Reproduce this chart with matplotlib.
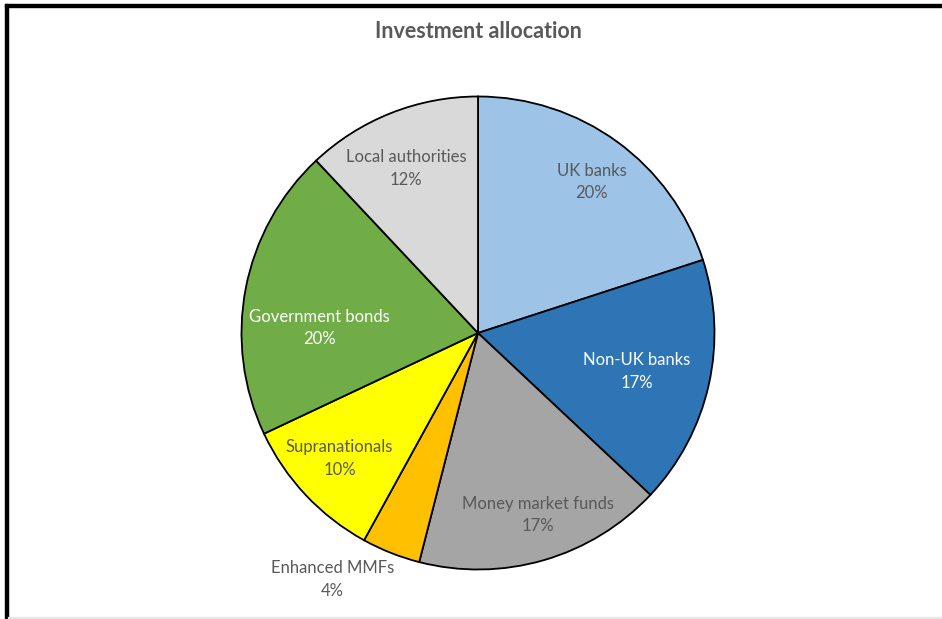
import matplotlib.pyplot as plt
from matplotlib.patches import Rectangle
import numpy as np

plt.rcParams['font.family'] = ['Lato', 'DejaVu Sans']

labels = ['UK banks', 'Non-UK banks', 'Money market funds', 'Enhanced MMFs',
          'Supranationals', 'Government bonds', 'Local authorities']
shares = [20, 17, 17, 4, 10, 20, 12]
colors = ['#9DC3E6', '#2E75B6', '#A5A5A5', '#FFC000', '#FFFF00', '#70AD47', '#D9D9D9']
text_colors = ['#595959', 'white', '#595959', '#595959', '#595959', 'white', '#595959']
# radial position of each label (fraction of radius) and angular nudge in degrees
label_r = [0.80, 0.69, 0.81, 1.21, 0.79, 0.67, 0.76]
label_nudge = [-1, -1, 2, -9, -1, 9, 2]

W, H = 942, 619
fig = plt.figure(figsize=(W / 100, H / 100), dpi=100)

# pie axes: centre (478, 333) px, radius 236.5 px
cx, cy, r = 478, 333, 236.5
ax = fig.add_axes([(cx - r) / W, (H - cy - r) / H, 2 * r / W, 2 * r / H])
ax.pie(shares, colors=colors, startangle=90, counterclock=False, radius=1,
       wedgeprops=dict(edgecolor='black', linewidth=1.3))
ax.set_xlim(-1, 1)
ax.set_ylim(-1, 1)
ax.set_aspect('equal')
ax.axis('off')

total = sum(shares)
start = 90.0
for lab, v, tc, lr, nd in zip(labels, shares, text_colors, label_r, label_nudge):
    span = 360.0 * v / total
    mid = np.deg2rad(start - span / 2 + nd)
    start -= span
    ax.text(lr * np.cos(mid), lr * np.sin(mid), f'{lab}\n{v}%', ha='center', va='center',
            color=tc, fontsize=12, linespacing=1.5, clip_on=False)

fig.text(cx / W, 1 - 32 / H, 'Investment allocation', ha='center', va='center',
         fontsize=15.5, fontweight='bold', color='#595959')

# frame lines along the top and left, faint line at the bottom
fig.patches.append(Rectangle((5 / W, 1 - 7 / H), 1, 3 / H, transform=fig.transFigure,
                             color='black', zorder=5))
fig.patches.append(Rectangle((5 / W, 0), 3 / W, 1 - 4 / H, transform=fig.transFigure,
                             color='black', zorder=5))
fig.patches.append(Rectangle((8 / W, 1 / H), 1, 1.5 / H, transform=fig.transFigure,
                             color='#E6E6E6', zorder=5))

fig.savefig('out.png', dpi=100)
